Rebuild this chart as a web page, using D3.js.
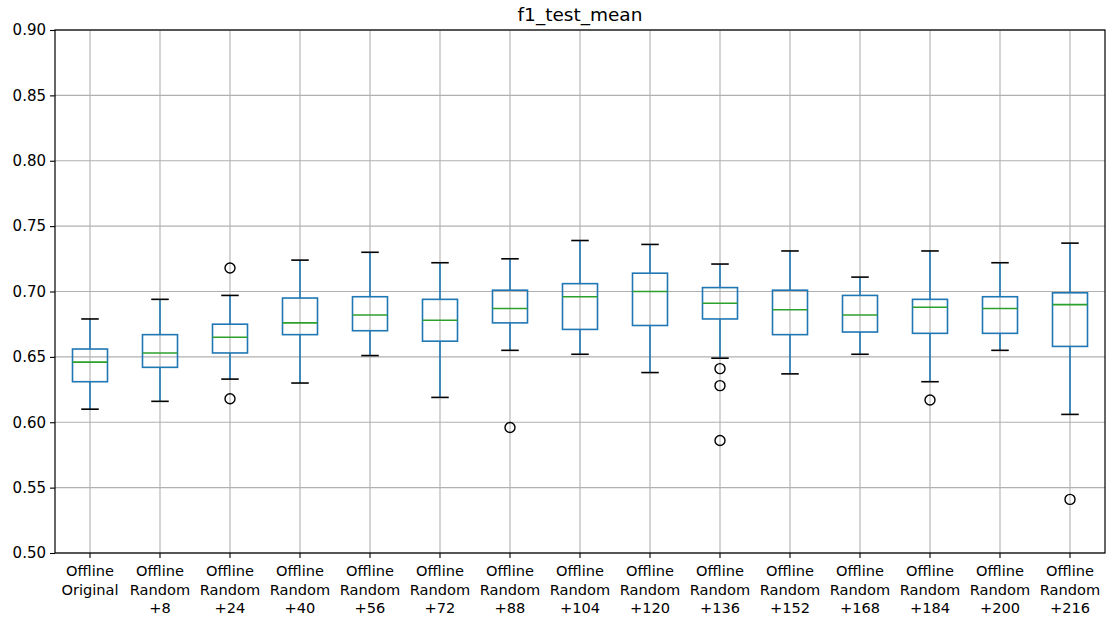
<!DOCTYPE html>
<html>
<head>
<meta charset="utf-8">
<script src="https://cdn.jsdelivr.net/npm/d3@7"></script>
<style>
  body { margin: 0; background: #fff; }
  svg { display: block; }
  text { font-family: "DejaVu Sans", sans-serif; fill: #000; }
</style>
</head>
<body>
<svg id="chart" width="1110" height="617"></svg>
<script>
// ---- data ----
const categories = [
  "Offline\nOriginal", "Offline\nRandom\n+8", "Offline\nRandom\n+24", "Offline\nRandom\n+40",
  "Offline\nRandom\n+56", "Offline\nRandom\n+72", "Offline\nRandom\n+88", "Offline\nRandom\n+104",
  "Offline\nRandom\n+120", "Offline\nRandom\n+136", "Offline\nRandom\n+152", "Offline\nRandom\n+168",
  "Offline\nRandom\n+184", "Offline\nRandom\n+200", "Offline\nRandom\n+216"
];
const whiskerLow  = [0.610, 0.616, 0.633, 0.630, 0.651, 0.619, 0.655, 0.652, 0.638, 0.649, 0.637, 0.652, 0.631, 0.655, 0.606];
const q1          = [0.631, 0.642, 0.653, 0.667, 0.670, 0.662, 0.676, 0.671, 0.674, 0.679, 0.667, 0.669, 0.668, 0.668, 0.658];
const median      = [0.646, 0.653, 0.665, 0.676, 0.682, 0.678, 0.687, 0.696, 0.700, 0.691, 0.686, 0.682, 0.688, 0.687, 0.690];
const q3          = [0.656, 0.667, 0.675, 0.695, 0.696, 0.694, 0.701, 0.706, 0.714, 0.703, 0.701, 0.697, 0.694, 0.696, 0.699];
const whiskerHigh = [0.679, 0.694, 0.697, 0.724, 0.730, 0.722, 0.725, 0.739, 0.736, 0.721, 0.731, 0.711, 0.731, 0.722, 0.737];
const outliers    = [[], [], [0.718, 0.618], [], [], [], [0.596], [], [], [0.641, 0.628, 0.586], [], [], [0.617], [], [0.541]];
const yTicks = [0.50, 0.55, 0.60, 0.65, 0.70, 0.75, 0.80, 0.85, 0.90];
const title = "f1_test_mean";

// ---- layout ----
const margin = { left: 55, right: 5, top: 30, bottom: 64 };
const W = 1110, H = 617;
const svg = d3.select("#chart");

const x = d3.scaleBand().domain(categories).range([margin.left, W - margin.right]).paddingInner(0).paddingOuter(0);
const y = d3.scaleLinear().domain([0.50, 0.90]).range([H - margin.bottom, margin.top]);

const bw = x.bandwidth();
const cx = d => x(d) + bw / 2;

// grid
const g = svg.append("g");
g.selectAll(".vgrid").data(categories).enter().append("line")
  .attr("x1", d => cx(d)).attr("x2", d => cx(d))
  .attr("y1", y(0.90)).attr("y2", y(0.50))
  .attr("stroke", "#b0b0b0").attr("stroke-width", 1.1);
g.selectAll(".hgrid").data(yTicks).enter().append("line")
  .attr("x1", margin.left).attr("x2", W - margin.right)
  .attr("y1", d => y(d)).attr("y2", d => y(d))
  .attr("stroke", "#b0b0b0").attr("stroke-width", 1.1);

// boxes
const data = categories.map((c, i) => ({
  c, lo: whiskerLow[i], q1: q1[i], med: median[i], q3: q3[i], hi: whiskerHigh[i], out: outliers[i]
}));
const boxW = bw * 0.5, capW = bw * 0.25;
const bg = svg.append("g").selectAll("g").data(data).enter().append("g");
// whiskers
bg.append("line").attr("x1", d => cx(d.c)).attr("x2", d => cx(d.c))
  .attr("y1", d => y(d.q1)).attr("y2", d => y(d.lo)).attr("stroke", "#1f77b4").attr("stroke-width", 1.6);
bg.append("line").attr("x1", d => cx(d.c)).attr("x2", d => cx(d.c))
  .attr("y1", d => y(d.q3)).attr("y2", d => y(d.hi)).attr("stroke", "#1f77b4").attr("stroke-width", 1.6);
// caps
bg.append("line").attr("x1", d => cx(d.c) - capW / 2).attr("x2", d => cx(d.c) + capW / 2)
  .attr("y1", d => y(d.lo)).attr("y2", d => y(d.lo)).attr("stroke", "#000").attr("stroke-width", 1.6);
bg.append("line").attr("x1", d => cx(d.c) - capW / 2).attr("x2", d => cx(d.c) + capW / 2)
  .attr("y1", d => y(d.hi)).attr("y2", d => y(d.hi)).attr("stroke", "#000").attr("stroke-width", 1.6);
// box
bg.append("rect").attr("x", d => cx(d.c) - boxW / 2).attr("width", boxW)
  .attr("y", d => y(d.q3)).attr("height", d => y(d.q1) - y(d.q3))
  .attr("fill", "none").attr("stroke", "#1f77b4").attr("stroke-width", 1.6);
// median
bg.append("line").attr("x1", d => cx(d.c) - boxW / 2).attr("x2", d => cx(d.c) + boxW / 2)
  .attr("y1", d => y(d.med)).attr("y2", d => y(d.med)).attr("stroke", "#2ca02c").attr("stroke-width", 1.6);
// outliers
bg.selectAll("circle").data(d => d.out.map(v => ({ c: d.c, v }))).enter().append("circle")
  .attr("cx", d => cx(d.c)).attr("cy", d => y(d.v)).attr("r", 5)
  .attr("fill", "none").attr("stroke", "#000").attr("stroke-width", 1.4);

// axes
const yAxis = d3.axisLeft(y).tickValues(yTicks).tickFormat(d3.format(".2f")).tickSize(5).tickPadding(4);
const ya = svg.append("g").attr("transform", `translate(${margin.left},0)`).call(yAxis);
ya.select(".domain").remove();
ya.selectAll("text").style("font-size", "15px").attr("fill", "#000");
ya.selectAll("line").attr("stroke", "#000").attr("stroke-width", 1.1);

const xAxis = d3.axisBottom(x).tickSize(5).tickFormat("");
const xa = svg.append("g").attr("transform", `translate(0,${y(0.50)})`).call(xAxis);
xa.select(".domain").remove();
xa.selectAll("line").attr("stroke", "#000").attr("stroke-width", 1.1);
xa.selectAll(".tick").each(function(d) {
  const t = d3.select(this).append("text").attr("text-anchor", "middle").attr("y", 23)
    .style("font-size", "14.6px").attr("fill", "#000");
  d.split("\n").forEach((s, i) => {
    t.append("tspan").attr("x", 0).attr("dy", i === 0 ? 0 : 18.7).text(s);
  });
});

// frame
svg.append("rect").attr("x", margin.left).attr("y", y(0.90))
  .attr("width", W - margin.right - margin.left).attr("height", y(0.50) - y(0.90))
  .attr("fill", "none").attr("stroke", "#000").attr("stroke-width", 1.2);

// title
svg.append("text").attr("x", (margin.left + W - margin.right) / 2).attr("y", 21)
  .attr("text-anchor", "middle").style("font-size", "18.5px").text(title);
</script>
</body>
</html>
